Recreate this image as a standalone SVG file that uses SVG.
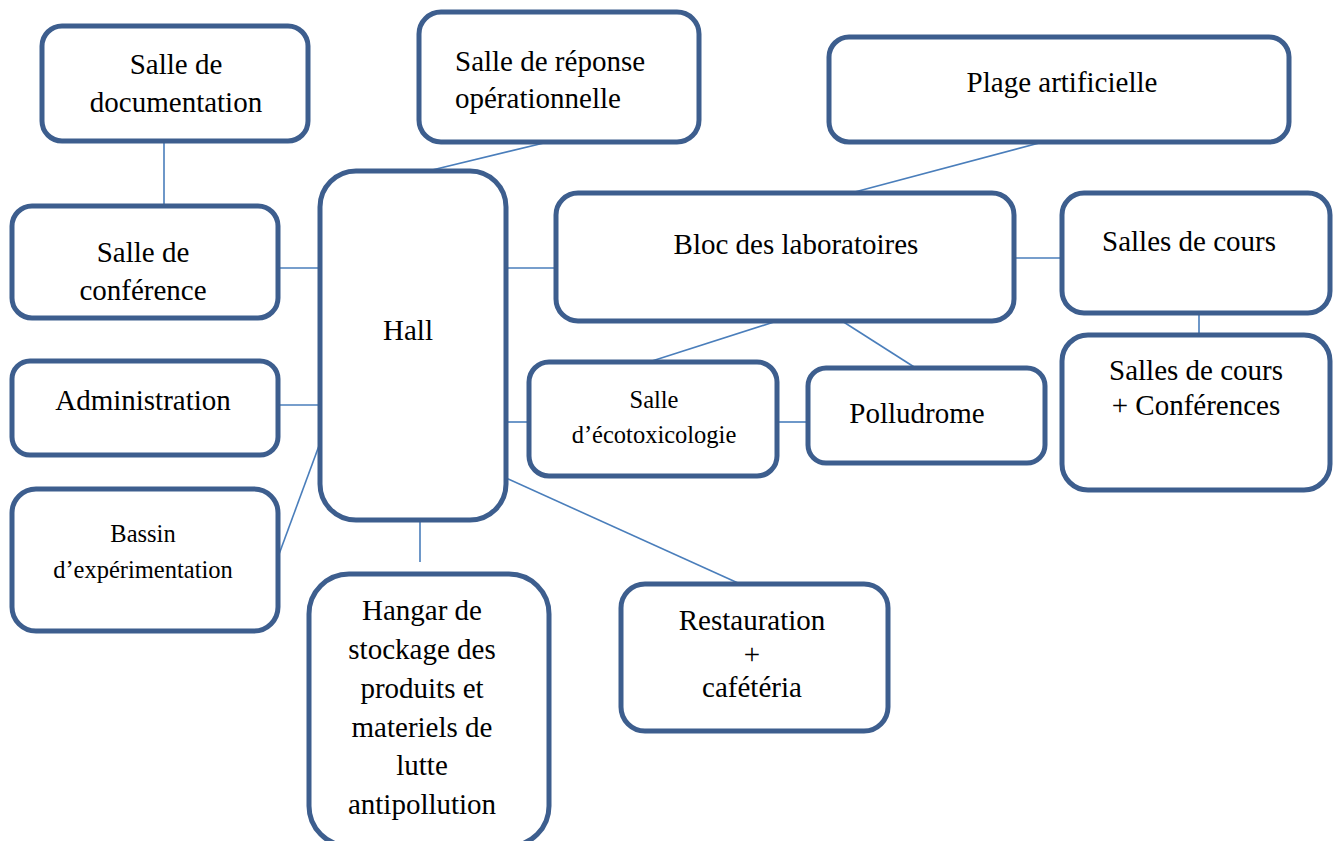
<svg xmlns="http://www.w3.org/2000/svg" width="1336" height="841" viewBox="0 0 1336 841">
  <style>
    .box { fill: #ffffff; stroke: #3d5e8e; stroke-width: 5; }
    .link { stroke: #4a7ebb; stroke-width: 1.6; fill: none; }
  </style>
  <rect width="1336" height="841" fill="#ffffff"/>

  <g id="connectors">
    <line class="link" x1="164" y1="141" x2="164" y2="206"/>
    <line class="link" x1="548" y1="142" x2="428" y2="171"/>
    <line class="link" x1="1043" y1="142" x2="851" y2="193"/>
    <line class="link" x1="278" y1="268" x2="320" y2="268"/>
    <line class="link" x1="506" y1="268" x2="556" y2="268"/>
    <line class="link" x1="1014" y1="258" x2="1062" y2="258"/>
    <line class="link" x1="1199" y1="313" x2="1199" y2="335"/>
    <line class="link" x1="777" y1="321" x2="652" y2="361"/>
    <line class="link" x1="842" y1="321" x2="922" y2="372"/>
    <line class="link" x1="278" y1="405" x2="320" y2="405"/>
    <line class="link" x1="320" y1="443" x2="278" y2="557"/>
    <line class="link" x1="506" y1="422" x2="529" y2="422"/>
    <line class="link" x1="777" y1="422" x2="808" y2="422"/>
    <line class="link" x1="506" y1="478" x2="738" y2="583"/>
    <line class="link" x1="420" y1="520" x2="420" y2="562"/>
  </g>

  <g id="labels-root" font-family="Liberation Serif, DejaVu Serif, serif" font-size="29" fill="#000000" text-anchor="middle">
  <g id="documentation">
    <rect class="box" x="42" y="26" width="266" height="115" rx="20"/>
    <text x="176" y="74">Salle de</text>
    <text x="176" y="112">documentation</text>
  </g>

  <g id="reponse">
    <rect class="box" x="419" y="12" width="280" height="130" rx="22"/>
    <text x="455" y="71" text-anchor="start">Salle de réponse</text>
    <text x="455" y="108" text-anchor="start">opérationnelle</text>
  </g>

  <g id="plage">
    <rect class="box" x="829" y="37" width="460" height="105" rx="20"/>
    <text x="1062" y="92">Plage artificielle</text>
  </g>

  <g id="hall">
    <rect class="box" x="320" y="171" width="186" height="349" rx="36"/>
    <text x="408" y="340">Hall</text>
  </g>

  <g id="conference">
    <rect class="box" x="12" y="206" width="266" height="112" rx="20"/>
    <text x="143" y="262">Salle de</text>
    <text x="143" y="300">conférence</text>
  </g>

  <g id="laboratoires">
    <rect class="box" x="556" y="193" width="458" height="128" rx="22"/>
    <text x="796" y="254">Bloc des laboratoires</text>
  </g>

  <g id="cours">
    <rect class="box" x="1062" y="193" width="268" height="120" rx="22"/>
    <text x="1189" y="251">Salles de cours</text>
  </g>

  <g id="cours-conferences">
    <rect class="box" x="1062" y="335" width="268" height="155" rx="26"/>
    <text x="1196" y="380">Salles de cours</text>
    <text x="1196" y="415">+ Conférences</text>
  </g>

  <g id="administration">
    <rect class="box" x="12" y="361" width="266" height="94" rx="18"/>
    <text x="143" y="410">Administration</text>
  </g>

  <g id="ecotoxicologie">
    <rect class="box" x="529" y="362" width="248" height="114" rx="20"/>
    <text font-size="24.5" x="654" y="408">Salle</text>
    <text font-size="24.5" x="654" y="443">d’écotoxicologie</text>
  </g>

  <g id="polludrome">
    <rect class="box" x="808" y="368" width="237" height="95" rx="18"/>
    <text x="917" y="423">Polludrome</text>
  </g>

  <g id="bassin">
    <rect class="box" x="12" y="489" width="266" height="142" rx="24"/>
    <text font-size="24.5" x="143" y="542">Bassin</text>
    <text font-size="24.5" x="143" y="578">d’expérimentation</text>
  </g>

  <g id="hangar">
    <rect class="box" x="309" y="574" width="240" height="272" rx="40"/>
    <text x="422" y="620">Hangar de</text>
    <text x="422" y="659">stockage des</text>
    <text x="422" y="698">produits et</text>
    <text x="422" y="737">materiels de</text>
    <text x="422" y="775">lutte</text>
    <text x="422" y="814">antipollution</text>
  </g>

  <g id="restauration">
    <rect class="box" x="621" y="584" width="267" height="147" rx="24"/>
    <text x="752" y="630">Restauration</text>
    <text x="752" y="664">+</text>
    <text x="752" y="697">cafétéria</text>
  </g>
  </g>
</svg>
